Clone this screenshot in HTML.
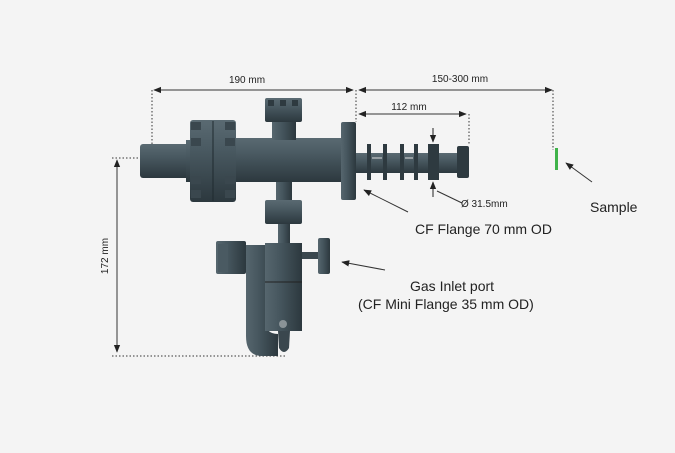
<!DOCTYPE html>
<html><head><meta charset="utf-8"><style>
html,body{margin:0;padding:0;background:#f4f4f4;}
svg{display:block;font-family:"Liberation Sans",sans-serif;}
</style></head><body>
<svg width="675" height="453" viewBox="0 0 675 453" xmlns="http://www.w3.org/2000/svg">
<defs>
<linearGradient id="h" x1="0" y1="0" x2="0" y2="1">
<stop offset="0" stop-color="#5a6a72"/><stop offset="0.35" stop-color="#4a5a62"/><stop offset="1" stop-color="#2c383e"/></linearGradient>
<linearGradient id="v" x1="0" y1="0" x2="1" y2="0">
<stop offset="0" stop-color="#56666e"/><stop offset="0.4" stop-color="#46565e"/><stop offset="1" stop-color="#2c383e"/></linearGradient>
<marker id="a" viewBox="0 0 10 10" refX="9" refY="5" markerWidth="8" markerHeight="8" orient="auto-start-reverse"><path d="M0,1 L10,5 L0,9 Z" fill="#222"/></marker>
</defs>
<rect width="675" height="453" fill="#f4f4f4"/>
<!-- dims -->
<g stroke="#333" stroke-width="1" fill="none">
<line x1="154" y1="90" x2="353" y2="90" marker-start="url(#a)" marker-end="url(#a)"/>
<line x1="359" y1="90" x2="552" y2="90" marker-start="url(#a)" marker-end="url(#a)"/>
<line x1="359" y1="114" x2="466" y2="114" marker-start="url(#a)" marker-end="url(#a)"/>
<line x1="117" y1="160" x2="117" y2="352" marker-start="url(#a)" marker-end="url(#a)"/>
<g stroke-dasharray="1.5,2">
<line x1="152" y1="90" x2="152" y2="145"/>
<line x1="356" y1="90" x2="356" y2="122"/>
<line x1="553" y1="90" x2="553" y2="150"/>
<line x1="469" y1="114" x2="469" y2="145"/>
<line x1="112" y1="158" x2="140" y2="158"/>
<line x1="112" y1="356" x2="285" y2="356"/>
</g>
<line x1="408" y1="212" x2="364" y2="190" marker-end="url(#a)"/>
<line x1="385" y1="270" x2="342" y2="262" marker-end="url(#a)"/>
<line x1="592" y1="182" x2="566" y2="163" marker-end="url(#a)"/>
<line x1="462" y1="203" x2="437" y2="191"/>
</g>
<rect x="555" y="148" width="3" height="22" fill="#3fb34a"/>
<!-- apparatus -->
<g>
<rect x="140" y="144" width="50" height="34" rx="3" fill="url(#h)"/>
<rect x="186" y="140" width="8" height="42" fill="url(#h)"/>
<rect x="190" y="120" width="46" height="82" rx="3" fill="url(#h)"/>
<line x1="213" y1="121" x2="213" y2="201" stroke="#1f2a2f"/>
<g fill="#3a474e"><rect x="191" y="122" width="10" height="8"/><rect x="191" y="138" width="10" height="8"/><rect x="191" y="176" width="10" height="8"/><rect x="191" y="190" width="10" height="8"/><rect x="225" y="122" width="10" height="8"/><rect x="225" y="138" width="10" height="8"/><rect x="225" y="176" width="10" height="8"/><rect x="225" y="190" width="10" height="8"/></g>
<rect x="236" y="138" width="106" height="44" fill="url(#h)"/>
<rect x="272" y="118" width="24" height="22" fill="url(#v)"/>
<rect x="265" y="98" width="37" height="24" rx="2" fill="url(#h)"/>
<rect x="268" y="100" width="6" height="6" fill="#2e3a40"/><rect x="280" y="100" width="6" height="6" fill="#2e3a40"/><rect x="292" y="100" width="6" height="6" fill="#2e3a40"/>
<rect x="341" y="122" width="15" height="78" rx="2" fill="url(#v)"/>
<!-- probe -->
<rect x="356" y="153" width="110" height="20" fill="url(#h)"/>
<g fill="#2e3a40">
<rect x="367" y="144" width="4" height="36"/><rect x="383" y="144" width="4" height="36"/><rect x="400" y="144" width="4" height="36"/><rect x="414" y="144" width="4" height="36"/>
<rect x="428" y="144" width="11" height="36"/><rect x="457" y="146" width="12" height="32" rx="2"/>
</g>
<line x1="372" y1="158" x2="382" y2="158" stroke="#ddd"/><line x1="405" y1="158" x2="413" y2="158" stroke="#ddd"/>
<line x1="433" y1="128" x2="433" y2="142" stroke="#222" marker-end="url(#a)"/>
<line x1="433" y1="197" x2="433" y2="182" stroke="#222" marker-end="url(#a)"/>
<!-- bottom port -->
<rect x="276" y="182" width="16" height="20" fill="url(#v)"/>
<rect x="265" y="200" width="37" height="24" rx="2" fill="url(#h)"/>
<rect x="278" y="224" width="12" height="22" fill="url(#v)"/>
<rect x="216" y="241" width="30" height="33" rx="2" fill="url(#v)"/>
<rect x="218" y="244" width="10" height="28" fill="#4a5a62"/>
<path d="M246,245 L265,245 L265,320 Q265,334 278,334 L278,356 L262,356 Q246,356 246,336 Z" fill="url(#v)"/>
<rect x="265" y="243" width="37" height="88" fill="url(#v)"/>
<line x1="265" y1="282" x2="302" y2="282" stroke="#222"/>
<rect x="302" y="252" width="18" height="7" fill="#3a474e"/>
<rect x="318" y="238" width="12" height="36" rx="2" fill="url(#v)"/>
<circle cx="283" cy="324" r="4" fill="#8a9397"/>
<path d="M278,331 L290,331 L289,348 Q284,356 279,348 Z" fill="#3a474e"/>
</g>
<!-- text -->
<g fill="#222">
<text x="247" y="83" font-size="10" text-anchor="middle">190 mm</text>
<text x="460" y="82" font-size="10" text-anchor="middle">150-300 mm</text>
<text x="409" y="110" font-size="10" text-anchor="middle">112 mm</text>
<text x="461" y="207" font-size="10">Ø 31.5mm</text>
<text x="415" y="234" font-size="14">CF Flange 70 mm OD</text>
<text x="590" y="212" font-size="14">Sample</text>
<text x="410" y="291" font-size="14">Gas Inlet port</text>
<text x="358" y="309" font-size="14">(CF Mini Flange 35 mm OD)</text>
<text x="108" y="256" font-size="10" text-anchor="middle" transform="rotate(-90 108 256)">172 mm</text>
</g>
</svg>
</body></html>
